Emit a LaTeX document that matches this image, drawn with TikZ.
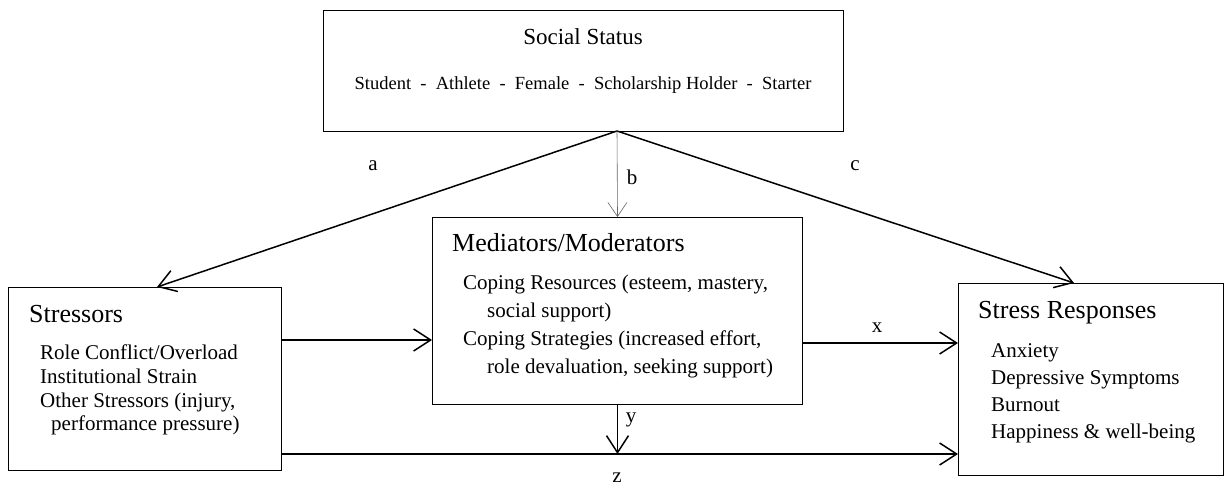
\documentclass[tikz,border=0pt]{standalone}
\usepackage{fontspec}
\setmainfont{Liberation Serif}
\usetikzlibrary{arrows.meta,calc}
\begin{document}
\begin{tikzpicture}[x=1pt,y=-1pt,
  box/.style={draw=black,line width=1pt,inner sep=0pt,anchor=north west},
  ttl/.style={anchor=base west,inner sep=0pt,font=\fontsize{26}{30}\selectfont},
  itm/.style={anchor=base west,inner sep=0pt,font=\fontsize{21}{24}\selectfont},
  lbl/.style={inner sep=0pt,font=\fontsize{21}{24}\selectfont},
  conn/.style={line width=1.5pt,-{Straight Barb[length=17pt,width=22pt,line width=1.5pt]}},
  thin/.style={line width=0.6pt,draw=black!60,-{Straight Barb[length=14pt,width=19pt,line width=0.6pt]}}
]
\useasboundingbox (0,0) rectangle (1225,489);
% boxes
\node[box,minimum width=520pt,minimum height=121pt] (ss) at (323,10) {};
\node[box,minimum width=273pt,minimum height=183pt] (st) at (8,287) {};
\node[box,minimum width=370pt,minimum height=187pt] (md) at (432,217) {};
\node[box,minimum width=265pt,minimum height=192pt] (sr) at (958,283) {};
% social status text
\node[anchor=base,inner sep=0pt,font=\fontsize{23}{28}\selectfont] (sst) at (583,45) {Social Status};
\node[anchor=base,inner sep=0pt,font=\fontsize{18.5}{22}\selectfont] (ssl) at (583,90) {Student~~-~~Athlete~~-~~Female~~-~~Scholarship Holder~~-~~Starter};
% stressors text
\node[ttl] (stt) at (29,322) {Stressors};
\node[itm] (st1) at (40,359) {Role Conflict/Overload};
\node[itm] (st2) at (40,383) {Institutional Strain};
\node[itm] (st3) at (40,407) {Other Stressors (injury,};
\node[itm] (st4) at (51,430) {performance pressure)};
% mediators text
\node[ttl] (mdt) at (452,251) {Mediators/Moderators};
\node[itm] (md1) at (463,289) {Coping Resources (esteem, mastery,};
\node[itm] (md2) at (487,317) {social support)};
\node[itm] (md3) at (463,345) {Coping Strategies (increased effort,};
\node[itm] (md4) at (487,373) {role devaluation, seeking support)};
% stress responses text
\node[ttl] (srt) at (978,318) {Stress Responses};
\node[itm] (sr1) at (991,357) {Anxiety};
\node[itm] (sr2) at (991,384) {Depressive Symptoms};
\node[itm] (sr3) at (991,411) {Burnout};
\node[itm] (sr4) at (991,438) {Happiness \& well-being};
% coordinates
\coordinate (apex) at (617,131);
\coordinate (ta) at ($(st.north west)+(149,0)$);
\coordinate (tc) at ($(sr.north west)+(116,0)$);
\coordinate (ymeet) at ($(md.south)+(0,49)$);
% connectors
\draw[conn] (apex) -- (ta);
\draw[conn] (apex) -- (tc);
\draw[thin] (apex) -- (md.north);
\draw[conn] ($(st.north west)+(273,53)$) -- ($(md.north west)+(0,123)$);
\draw[conn] ($(md.north east)+(0,126)$) -- ($(sr.north west)+(0,60)$);
\draw[conn] (md.south) -- (ymeet);
\draw[conn] ($(st.south east)+(0,-17)$) -- ($(sr.south west)+(0,-22)$);
% labels
\node[lbl] (la) at (373,166) {a};
\node[lbl] (lb) at (632,177) {b};
\node[lbl] (lc) at (855,166) {c};
\node[lbl] (lx) at (877,328) {x};
\node[lbl] (ly) at (631,420) {y};
\node[lbl] (lz) at (617,478) {z};
\end{tikzpicture}
\end{document}
